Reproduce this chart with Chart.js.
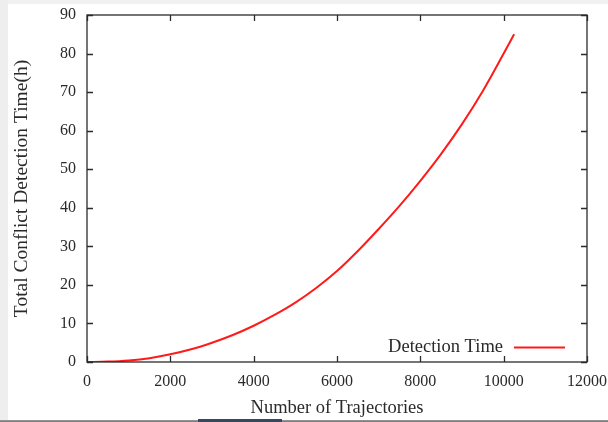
<!DOCTYPE html>
<html>
<head>
<meta charset="utf-8">
<script src="https://cdn.jsdelivr.net/npm/chart.js@4.4.1/dist/chart.umd.min.js"></script>
<style>
  html, body { margin: 0; padding: 0; background: #ffffff; }
  #wrap { position: relative; width: 608px; height: 422px; overflow: hidden; }
  .strip { position: absolute; }
  #top { left: 0; top: 0; width: 608px; height: 4px; background: #f1f1f1; }
  #left { left: 0; top: 0; width: 8px; height: 422px; background: #eeeeee; }
  #bottom { left: 0; top: 420px; width: 608px; height: 2px; background: linear-gradient(#9a9a9a, #777777); }
  #dark { left: 198px; top: 419px; width: 84px; height: 3px; background: #34485e; }
  canvas { position: absolute; left: 0; top: 0; }
</style>
</head>
<body>
<div id="wrap">
  <div class="strip" id="top"></div>
  <div class="strip" id="left"></div>
  <div class="strip" id="bottom"></div>
  <div class="strip" id="dark"></div>
  <canvas id="myChart" width="608" height="422"></canvas>
</div>
<script>
"use strict"
// Werte
const trajectories = [0, 500, 1000, 1500, 2000, 2500, 3000, 3500, 4000, 4500, 5000,
    5500, 6000, 6500, 7000, 7500, 8000, 8500, 9000, 9500, 10000, 10250];
const detectionHours = [0, 0.1, 0.4, 1.0, 2.0, 3.3, 5.0, 7.0, 9.4, 12.2, 15.4,
    19.2, 23.6, 28.8, 34.5, 40.5, 47.0, 54.0, 61.7, 70.3, 80.0, 85.0];
const xTicks = [0, 2000, 4000, 6000, 8000, 10000, 12000];
const yTicks = [0, 10, 20, 30, 40, 50, 60, 70, 80, 90];
const seriesLabel = 'Detection Time';

const serif = "'Liberation Serif', 'DejaVu Serif', serif";
const textColor = '#2a2a2a';

// Rahmen, Ticks nach innen und Legende wie bei gnuplot
const gnuplotFrame = {
    id: 'gnuplotFrame',
    afterDatasetsDraw(chart) {
        const { ctx, chartArea: a, scales } = chart;
        ctx.save();
        ctx.strokeStyle = '#2b2b2b';
        ctx.lineWidth = 1.3;
        ctx.strokeRect(a.left, a.top, a.right - a.left, a.bottom - a.top);
        ctx.beginPath();
        for (const v of xTicks) {
            const px = Math.round(scales.x.getPixelForValue(v)) + 0.5;
            ctx.moveTo(px, a.bottom); ctx.lineTo(px, a.bottom - 6);
            ctx.moveTo(px, a.top); ctx.lineTo(px, a.top + 6);
        }
        for (const v of yTicks) {
            const py = Math.round(scales.y.getPixelForValue(v)) + 0.5;
            ctx.moveTo(a.left, py); ctx.lineTo(a.left + 6, py);
            ctx.moveTo(a.right, py); ctx.lineTo(a.right - 6, py);
        }
        ctx.stroke();

        // Legende unten rechts
        const ds = chart.data.datasets[0];
        const ly = a.bottom - 14.5;
        ctx.font = '18.5px ' + serif;
        ctx.fillStyle = textColor;
        ctx.textAlign = 'right';
        ctx.textBaseline = 'middle';
        ctx.fillText(ds.label, a.right - 84, ly);
        ctx.strokeStyle = ds.borderColor;
        ctx.lineWidth = ds.borderWidth;
        ctx.beginPath();
        ctx.moveTo(a.right - 73, ly);
        ctx.lineTo(a.right - 22, ly);
        ctx.stroke();
        ctx.restore();
    }
};

const config = {
    type: 'line',
    data: {
        datasets: [{
            label: seriesLabel,
            data: trajectories.map((t, i) => ({ x: t, y: detectionHours[i] })),
            borderColor: '#ff1a1a',
            borderWidth: 2,
            pointRadius: 0,
            fill: false,
            cubicInterpolationMode: 'monotone'
        }]
    },
    options: {
        responsive: false,
        animation: false,
        layout: { padding: { left: 0, right: 21, top: 15, bottom: 0 } },
        plugins: {
            legend: { display: false },
            tooltip: { enabled: false }
        },
        scales: {
            x: {
                type: 'linear',
                min: 0,
                max: 12000,
                afterBuildTicks: (scale) => { scale.ticks = xTicks.map(v => ({ value: v })); },
                afterFit: (scale) => { scale.height = 60; scale.paddingLeft = 0; scale.paddingRight = 0; },
                grid: { display: false, drawTicks: false },
                border: { display: false },
                ticks: {
                    padding: 10,
                    maxRotation: 0,
                    autoSkip: false,
                    color: textColor,
                    font: { family: serif, size: 16 },
                    callback: (v) => String(v)
                },
                title: {
                    display: true,
                    text: 'Number of Trajectories',
                    color: textColor,
                    font: { family: serif, size: 18.5 },
                    padding: { top: 1, bottom: 3 }
                }
            },
            y: {
                min: 0,
                max: 90,
                afterBuildTicks: (scale) => { scale.ticks = yTicks.map(v => ({ value: v })); },
                afterFit: (scale) => { scale.width = 87; scale.paddingTop = 0; scale.paddingBottom = 0; },
                grid: { display: false, drawTicks: false },
                border: { display: false },
                ticks: {
                    padding: 11,
                    color: textColor,
                    font: { family: serif, size: 16 },
                    callback: (v) => String(v)
                },
                title: {
                    display: true,
                    text: 'Total Conflict Detection Time(h)',
                    color: textColor,
                    font: { family: serif, size: 19.5 },
                    padding: { top: 10, bottom: 0 }
                }
            }
        }
    },
    plugins: [gnuplotFrame]
};

new Chart(document.getElementById('myChart'), config);
</script>
</body>
</html>
